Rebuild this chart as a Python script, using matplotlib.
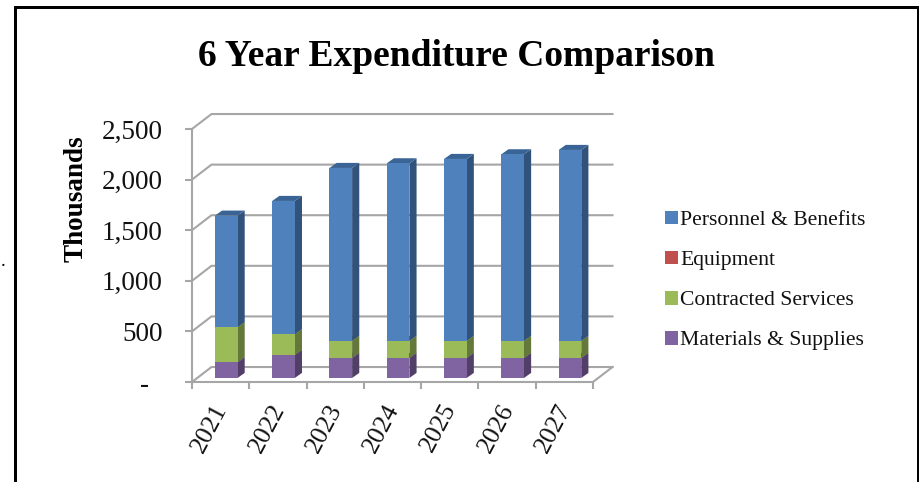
import matplotlib
matplotlib.use("Agg")
import matplotlib.pyplot as plt
from matplotlib.patches import Patch, Polygon
from matplotlib.lines import Line2D
from matplotlib.transforms import ScaledTranslation

years = ["2021", "2022", "2023", "2024", "2025", "2026", "2027"]
materials = [155, 228, 198, 198, 198, 198, 198]
contracted = [347, 204, 168, 168, 168, 168, 168]
equipment = [0, 0, 0, 0, 0, 0, 0]
personnel = [1102, 1317, 1709, 1755, 1798, 1844, 1887]
y_ticks = [0, 500, 1000, 1500, 2000, 2500]
y_labels = ["-  ", "500", "1,000", "1,500", "2,000", "2,500"]

SERIF = "Liberation Serif"
GRID = "#a6a6a6"
W, H = 919, 482
fig = plt.figure(figsize=(W / 100, H / 100), dpi=100, facecolor="white")
ax = fig.add_axes([192 / W, (H - 382) / H, 401 / W, 253 / H])
ax.set_xlim(0, 7)
ax.set_ylim(0, 2500)
ax.patch.set_visible(False)

# 3D wall offset and bar layout (category units / value units)
WALL_DX, WALL_DY = 0.34, 148
BAR_X, BAR_W = 0.40, 0.395
BAR_DX, BAR_DY = 0.125, 50
BAR_Y = 40

for v in y_ticks:
    ax.add_line(Line2D([0, WALL_DX, 7 + WALL_DX], [v, v + WALL_DY, v + WALL_DY],
                       color=GRID, lw=1.5, zorder=1, clip_on=False))
ax.add_line(Line2D([7, 7 + WALL_DX], [0, WALL_DY], color=GRID, lw=1.5, zorder=1, clip_on=False))

series = [
    (materials, "#8064A2", "#513F68", "#66507F", "Materials & Supplies"),
    (contracted, "#9BBB59", "#64783A", "#7C9547", "Contracted Services"),
    (equipment, "#C0504D", "#7C3331", "#994040", "Equipment"),
    (personnel, "#4F81BD", "#31527B", "#3A6496", "Personnel & Benefits"),
]
for i in range(len(years)):
    x0, x1 = i + BAR_X, i + BAR_X + BAR_W
    base = BAR_Y
    for vals, face, side, top, _ in series:
        v = vals[i]
        y0, y1 = base, base + v
        if v > 0:
            ax.add_patch(Polygon([(x1, y0), (x1 + BAR_DX, y0 + BAR_DY), (x1 + BAR_DX, y1 + BAR_DY), (x1, y1)],
                                 fc=side, ec="none", zorder=3, clip_on=False))
            ax.add_patch(Polygon([(x0, y1), (x0 + BAR_DX, y1 + BAR_DY), (x1 + BAR_DX, y1 + BAR_DY), (x1, y1)],
                                 fc=top, ec="none", zorder=3, clip_on=False))
            ax.add_patch(Polygon([(x0, y0), (x1, y0), (x1, y1), (x0, y1)],
                                 fc=face, ec="none", zorder=4, clip_on=False))
        base = y1

for s in ["top", "right"]:
    ax.spines[s].set_visible(False)
for s in ["left", "bottom"]:
    ax.spines[s].set_color(GRID)
    ax.spines[s].set_linewidth(1.5)

ax.set_yticks(y_ticks)
ax.set_yticklabels(y_labels, fontfamily=SERIF, fontsize=19.5, color="#111111")
ax.tick_params(axis="y", length=5, width=1.5, color=GRID, pad=16)
ax.set_xticks(range(8))
ax.set_xticklabels([""] * 8)
ax.tick_params(axis="x", which="major", length=5, width=1.5, color=GRID)
ax.set_xticks([i + 0.5 for i in range(7)], minor=True)
ax.set_xticklabels(years, minor=True, rotation=62, ha="right", va="top",
                   rotation_mode="anchor", fontfamily=SERIF, fontsize=18.5, color="#111111")
ax.tick_params(axis="x", which="minor", length=0, pad=13)
shift = ScaledTranslation(-6 / 72, 0, fig.dpi_scale_trans)
for lab in ax.get_xticklabels(minor=True):
    lab.set_transform(lab.get_transform() + shift)

fig.text(76 / W, 1 - 199 / H, "Thousands", rotation=90, ha="center", va="center",
         fontfamily=SERIF, fontweight="bold", fontsize=19.5, color="black")
fig.text(456 / W, 1 - 57 / H, "6 Year Expenditure Comparison", ha="center", va="center",
         fontfamily=SERIF, fontweight="bold", fontsize=27, color="black")
fig.text(3 / W, 1 - 262 / H, ".", ha="center", va="center", fontfamily=SERIF, fontsize=14)

handles = [Patch(fc=s[1], ec="none", label=s[4]) for s in reversed(series)]
fig.legend(handles=handles, loc="center left", bbox_to_anchor=(645 / W, 1 - 280.5 / H), frameon=False,
           prop={"family": SERIF, "size": 15.6}, labelspacing=0.95, handlelength=0.6,
           handleheight=0.6, handletextpad=0.12, labelcolor="#111111")

# Page frame, open at the bottom
for xs, ys in [([14.5, 14.5], [0, H - 6.5]), ([14.5, 918], [H - 6.5, H - 6.5]), ([918, 918], [0, H - 6.5])]:
    fig.add_artist(Line2D([x / W for x in xs], [y / H for y in ys], color="black", lw=2.16,
                          transform=fig.transFigure, solid_capstyle="projecting"))

fig.savefig("out.png", dpi=100)
